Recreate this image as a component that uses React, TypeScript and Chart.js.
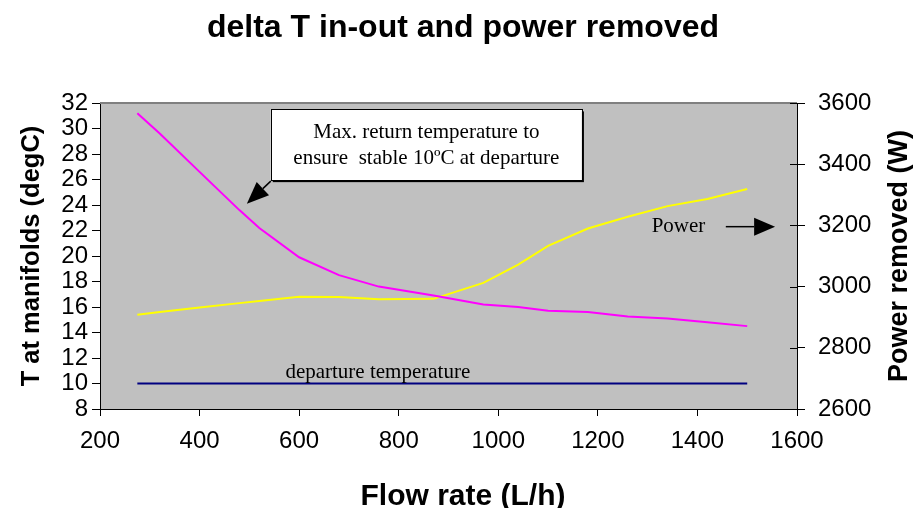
import React, { useEffect, useRef } from "react";
import { Chart, registerables } from "chart.js";

Chart.register(...registerables);

// ---- data ----
const flowRate = [275, 320, 400, 480, 520, 600, 680, 760, 870, 970, 1040, 1100, 1180, 1260, 1340, 1420, 1500];
const returnTemp = [31.2, 29.6, 26.6, 23.6, 22.2, 19.9, 18.5, 17.6, 16.9, 16.2, 16.0, 15.7, 15.6, 15.25, 15.1, 14.8, 14.5];
const departureTemp = [10, 10, 10, 10, 10, 10, 10, 10, 10, 10, 10, 10, 10, 10, 10, 10, 10];
const powerRemoved = [2908, 2917, 2932, 2946, 2953, 2967, 2966, 2959, 2960, 3012, 3072, 3133, 3190, 3228, 3263, 3286, 3319];

const xTickValues = [200, 400, 600, 800, 1000, 1200, 1400, 1600];
const leftTickValues = [8, 10, 12, 14, 16, 18, 20, 22, 24, 26, 28, 30, 32];
const rightTickValues = [2600, 2800, 3000, 3200, 3400, 3600];

const chartTitle = "delta T in-out and power removed";
const xTitle = "Flow rate (L/h)";
const leftTitle = "T at manifolds (degC)";
const rightTitle = "Power removed (W)";
const noteLines = ["Max. return temperature to", "ensure  stable 10\u00baC at departure"];
const powerLabel = "Power";
const departureLabel = "departure temperature";

// annotation anchors in data units (flow, degC)
const noteBox = { x0: 543, x1: 1168, yTop: 31.5, yBottom: 25.95 };
const noteArrowTip = { x: 495, y: 24.1 };
const powerText = { x: 1362, y: 22.3 };
const powerArrow = { x0: 1457, x1: 1556, y: 22.3 };
const departureText = { x: 758, y: 10.45 };

const SANS = "'Liberation Sans', Arial, sans-serif";
const SERIF = "'Liberation Serif', 'Times New Roman', serif";

const pts = (ys: number[]) => flowRate.map((x, i) => ({ x, y: ys[i] }));

function arrowHead(ctx: CanvasRenderingContext2D, fx: number, fy: number, tx: number, ty: number, len: number, half: number) {
  const a = Math.atan2(ty - fy, tx - fx);
  const bx = tx - len * Math.cos(a);
  const by = ty - len * Math.sin(a);
  ctx.beginPath();
  ctx.moveTo(tx, ty);
  ctx.lineTo(bx + half * Math.sin(a), by - half * Math.cos(a));
  ctx.lineTo(bx - half * Math.sin(a), by + half * Math.cos(a));
  ctx.closePath();
  ctx.fill();
  ctx.beginPath();
  ctx.moveTo(fx, fy);
  ctx.lineTo(bx, by);
  ctx.stroke();
}

const decoPlugin = {
  id: "deco",
  beforeDraw(chart: any) {
    const { ctx, chartArea: a } = chart;
    ctx.save();
    ctx.fillStyle = "#ffffff";
    ctx.fillRect(0, 0, chart.width, chart.height);
    ctx.fillStyle = "#c0c0c0";
    ctx.fillRect(a.left, a.top, a.right - a.left, a.bottom - a.top);
    ctx.restore();
  },
  afterDraw(chart: any) {
    const { ctx, chartArea: a, scales } = chart;
    const xs = scales.x;
    const yl = scales.y;
    const yr = scales.y1;
    ctx.save();
    // top border of plot
    ctx.strokeStyle = "#808080";
    ctx.lineWidth = 2;
    ctx.beginPath();
    ctx.moveTo(a.left, a.top);
    ctx.lineTo(a.right, a.top);
    ctx.stroke();
    // inner part of right-axis ticks
    ctx.strokeStyle = "#000000";
    ctx.lineWidth = 1;
    rightTickValues.forEach((v) => {
      const y = Math.round(yr.getPixelForValue(v)) + 0.5;
      ctx.beginPath();
      ctx.moveTo(a.right - 7, y);
      ctx.lineTo(a.right, y);
      ctx.stroke();
    });

    ctx.fillStyle = "#000000";
    // chart title
    ctx.font = `bold 32px ${SANS}`;
    ctx.textAlign = "center";
    ctx.textBaseline = "alphabetic";
    ctx.fillText(chartTitle, 463, 37);
    // x title
    ctx.font = `bold 30px ${SANS}`;
    ctx.fillText(xTitle, 463, 505);
    // left title
    ctx.save();
    ctx.translate(39, (a.top + a.bottom) / 2);
    ctx.rotate(-Math.PI / 2);
    ctx.font = `bold 25.5px ${SANS}`;
    ctx.fillText(leftTitle, 0, 0);
    ctx.restore();
    // right title
    ctx.save();
    ctx.translate(907, (a.top + a.bottom) / 2);
    ctx.rotate(-Math.PI / 2);
    ctx.font = `bold 27px ${SANS}`;
    ctx.fillText(rightTitle, 0, 0);
    ctx.restore();

    // note box
    const bx0 = xs.getPixelForValue(noteBox.x0);
    const bx1 = xs.getPixelForValue(noteBox.x1);
    const by0 = yl.getPixelForValue(noteBox.yTop);
    const by1 = yl.getPixelForValue(noteBox.yBottom);
    ctx.fillStyle = "#000000";
    ctx.fillRect(bx0 + 2, by0 + 2, bx1 - bx0, by1 - by0);
    ctx.fillStyle = "#ffffff";
    ctx.fillRect(bx0, by0, bx1 - bx0, by1 - by0);
    ctx.strokeStyle = "#000000";
    ctx.lineWidth = 1;
    ctx.strokeRect(Math.round(bx0) + 0.5, Math.round(by0) + 0.5, Math.round(bx1 - bx0), Math.round(by1 - by0));
    ctx.fillStyle = "#000000";
    ctx.font = `21px ${SERIF}`;
    ctx.textAlign = "center";
    const cx = (bx0 + bx1) / 2;
    ctx.fillText(noteLines[0], cx, by0 + 29);
    ctx.fillText(noteLines[1], cx, by0 + 55);
    // note arrow
    ctx.lineWidth = 1.5;
    arrowHead(ctx, bx0, by1 + 1, xs.getPixelForValue(noteArrowTip.x), yl.getPixelForValue(noteArrowTip.y), 22, 9);

    // power label and arrow
    ctx.font = `21px ${SERIF}`;
    ctx.textAlign = "center";
    ctx.textBaseline = "middle";
    ctx.fillText(powerLabel, xs.getPixelForValue(powerText.x), yl.getPixelForValue(powerText.y));
    const py = yl.getPixelForValue(powerArrow.y);
    ctx.lineWidth = 1.5;
    arrowHead(ctx, xs.getPixelForValue(powerArrow.x0), py, xs.getPixelForValue(powerArrow.x1), py, 21, 9);

    // departure label
    ctx.textBaseline = "alphabetic";
    ctx.fillText(departureLabel, xs.getPixelForValue(departureText.x), yl.getPixelForValue(departureText.y));
    ctx.restore();
  },
};

export default function App() {
  const ref = useRef<HTMLCanvasElement | null>(null);
  useEffect(() => {
    if (!ref.current) return;
    const tickFont = { family: SANS, size: 24 };
    const plain = (v: any) => String(v);
    const chart = new Chart(ref.current, {
      type: "line",
      data: {
        datasets: [
          {
            label: "Max. return temperature",
            data: pts(returnTemp),
            borderColor: "#ff00ff",
            borderWidth: 2,
            pointRadius: 0,
            tension: 0,
            yAxisID: "y",
          },
          {
            label: "departure temperature",
            data: pts(departureTemp),
            borderColor: "#000080",
            borderWidth: 2,
            pointRadius: 0,
            tension: 0,
            yAxisID: "y",
          },
          {
            label: "Power",
            data: pts(powerRemoved),
            borderColor: "#ffff00",
            borderWidth: 2,
            pointRadius: 0,
            tension: 0,
            yAxisID: "y1",
          },
        ],
      },
      options: {
        animation: false,
        responsive: true,
        maintainAspectRatio: false,
        layout: { padding: { top: 103, left: 0, right: 0, bottom: 0 } },
        plugins: { legend: { display: false }, tooltip: { enabled: false }, title: { display: false } },
        scales: {
          x: {
            type: "linear",
            min: 200,
            max: 1600,
            afterBuildTicks: (s: any) => { s.ticks = xTickValues.map((v) => ({ value: v })); },
            afterFit: (s: any) => { s.height = 99; },
            ticks: { font: tickFont, color: "#000", padding: 11, maxRotation: 0, autoSkip: false, callback: plain },
            grid: { drawOnChartArea: false, drawTicks: true, tickLength: 7, color: "#000" },
            border: { display: true, color: "#000", width: 1 },
          },
          y: {
            type: "linear",
            position: "left",
            min: 8,
            max: 32,
            afterBuildTicks: (s: any) => { s.ticks = leftTickValues.map((v) => ({ value: v })); },
            afterFit: (s: any) => { s.width = 100; },
            ticks: { font: tickFont, color: "#000", padding: 4, autoSkip: false, callback: plain },
            grid: { drawOnChartArea: false, drawTicks: true, tickLength: 8, color: "#000" },
            border: { display: true, color: "#000", width: 1 },
          },
          y1: {
            type: "linear",
            position: "right",
            min: 2600,
            max: 3600,
            afterBuildTicks: (s: any) => { s.ticks = rightTickValues.map((v) => ({ value: v })); },
            afterFit: (s: any) => { s.width = 118; },
            ticks: { font: tickFont, color: "#000", padding: 13, autoSkip: false, callback: plain },
            grid: { drawOnChartArea: false, drawTicks: true, tickLength: 8, color: "#000" },
            border: { display: true, color: "#000", width: 1 },
          },
        },
      },
      plugins: [decoPlugin],
    } as any);
    return () => chart.destroy();
  }, []);
  return (
    <div style={{ position: "fixed", left: 0, top: 0, width: 915, height: 508, background: "#fff" }}>
      <canvas ref={ref} />
    </div>
  );
}
